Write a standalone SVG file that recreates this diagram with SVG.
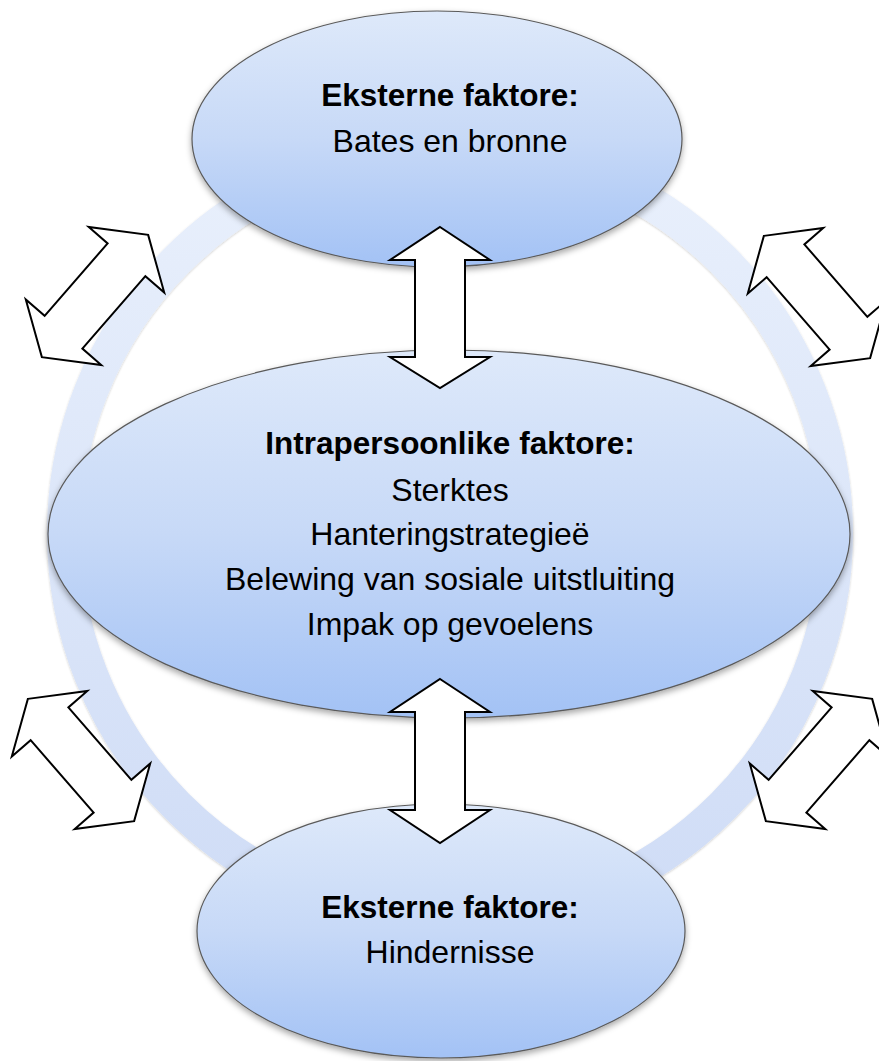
<svg xmlns="http://www.w3.org/2000/svg" xmlns:xlink="http://www.w3.org/1999/xlink" width="879" height="1061" viewBox="0 0 879 1061">
<style>
.ell{fill:url(#ellGrad);stroke:#5a5a5a;stroke-width:1.2;filter:url(#shadow)}
.t{font-family:"Liberation Sans",Arial,sans-serif;text-anchor:middle;fill:#000}
.b{font-weight:bold;font-size:31.5px}
.r{font-size:32px}
.arr{fill:#fff;stroke:#000;stroke-width:2;stroke-linejoin:miter}
</style>
<defs>
<linearGradient id="ellGrad" x1="0" y1="0" x2="0" y2="1">
<stop offset="0" stop-color="#dee9fa"/>
<stop offset="0.5" stop-color="#c7d9f7"/>
<stop offset="1" stop-color="#a3c2f5"/>
</linearGradient>
<linearGradient id="ringGrad" x1="0" y1="0" x2="0" y2="1">
<stop offset="0" stop-color="#e9f0fc"/>
<stop offset="1" stop-color="#cfdcf6"/>
</linearGradient>
<filter id="shadow" x="-10%" y="-10%" width="120%" height="125%">
<feDropShadow dx="0" dy="3" stdDeviation="3" flood-color="#000" flood-opacity="0.35"/>
</filter>
<filter id="ringShadow" x="-10%" y="-10%" width="120%" height="120%">
<feDropShadow dx="0" dy="1" stdDeviation="1" flood-color="#000" flood-opacity="0.2"/>
</filter>
<polygon id="arrow" points="0,-81 50,-48 25,-48 25,48 50,48 0,81 -50,48 -25,48 -25,-48 -50,-48"/>
</defs>
<g id="ring">
<circle cx="450" cy="533" r="386" fill="none" stroke="url(#ringGrad)" stroke-width="34" filter="url(#ringShadow)"/>
</g>
<g id="node-top">
<ellipse class="ell" cx="437" cy="139" rx="245" ry="128"/>
<text class="t b" x="450" y="106">Eksterne faktore:</text>
<text class="t r" x="450" y="152">Bates en bronne</text>
</g>
<g id="node-middle">
<ellipse class="ell" cx="449" cy="534" rx="401" ry="184"/>
<text class="t b" x="450" y="454">Intrapersoonlike faktore:</text>
<text class="t r" x="450" y="501">Sterktes</text>
<text class="t r" x="450" y="545">Hanteringstrategieë</text>
<text class="t r" x="450" y="590">Belewing van sosiale uitstluiting</text>
<text class="t r" x="450" y="635">Impak op gevoelens</text>
</g>
<g id="node-bottom">
<ellipse class="ell" cx="441" cy="931" rx="244" ry="127"/>
<text class="t b" x="450" y="918">Eksterne faktore:</text>
<text class="t r" x="450" y="963">Hindernisse</text>
</g>
<g id="connectors">
<polygon class="arr" points="440,227 490,260 465,260 465,357 490,357 440,388 390,357 415,357 415,260 390,260"/>
<polygon class="arr" points="440,679 490,712 465,712 465,810 490,810 440,843 390,810 415,810 415,712 390,712"/>
<use xlink:href="#arrow" class="arr" transform="translate(95,296) rotate(41)"/>
<use xlink:href="#arrow" class="arr" transform="translate(817,297) rotate(-41)"/>
<use xlink:href="#arrow" class="arr" transform="translate(81,760) rotate(-41)"/>
<use xlink:href="#arrow" class="arr" transform="translate(819,760) rotate(41)"/>
</g>
</svg>
